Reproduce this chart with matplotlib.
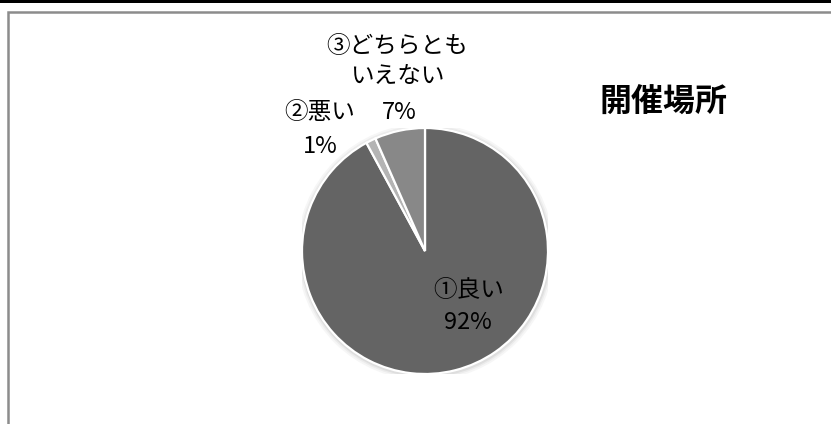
import matplotlib
matplotlib.use('Agg')
import matplotlib.pyplot as plt
from matplotlib.patches import Rectangle, Circle

plt.rcParams['font.family'] = ['Noto Sans CJK JP', 'DejaVu Sans']

# data
labels = ['①良い', '②悪い', '③どちらとも\nいえない']
values = [92.1, 1.3, 6.6]
colors = ['#646464', '#b4b4b4', '#888888']
title = '開催場所'

W, H = 831, 424
fig = plt.figure(figsize=(W / 100, H / 100), dpi=100)

# black strip at top and the chart frame (only top/left edges visible)
fig.patches.append(Rectangle((0, 1 - 3 / H), 1, 3 / H, transform=fig.transFigure,
                             facecolor='black', edgecolor='none'))
fig.patches.append(Rectangle((8 / W, -0.1), 1.2, 1 - 11.5 / H + 0.1, transform=fig.transFigure,
                             facecolor='none', edgecolor='#8c8c8c', linewidth=1.8))

# pie axes, square in pixels: centre (425, 251), radius 123
cx, cy, r = 425, 251, 123
ax = fig.add_axes([(cx - r) / W, (H - cy - r) / H, 2 * r / W, 2 * r / H])
# soft glow around the pie
for rr, c in [(1.045, '#f6f6f6'), (1.03, '#ececec'), (1.018, '#dedede')]:
    ax.add_patch(Circle((0.004, -0.008), rr, facecolor=c, edgecolor='none', zorder=0))
wedges, _ = ax.pie(values, colors=colors, startangle=90, counterclock=False,
                   wedgeprops=dict(edgecolor='white', linewidth=1.6))
ax.set_xlim(-1, 1)
ax.set_ylim(-1, 1)
ax.set_axis_off()

total = sum(values)
pcts = ['%d%%' % round(v / total * 100) for v in values]

# label positions (pie data units): name, then percentage
name_pos = [(0.358, -0.325), (-0.854, 1.13), (-0.228, 1.54)]
pct_pos = [(0.35, -0.585), (-0.854, 0.85), (-0.21, 1.13)]
for lab, p, (x, y), (px, py) in zip(labels, pcts, name_pos, pct_pos):
    ax.text(x, y, lab, ha='center', va='center', fontsize=17,
            linespacing=1.42, color='black', clip_on=False)
    ax.text(px, py, p, ha='center', va='center', fontsize=17,
            color='black', clip_on=False)

fig.text(663 / W, 1 - 102 / H, title, ha='center', va='center', fontsize=23,
         fontweight='bold', color='black')

fig.savefig('out.png', dpi=100, facecolor='white')
